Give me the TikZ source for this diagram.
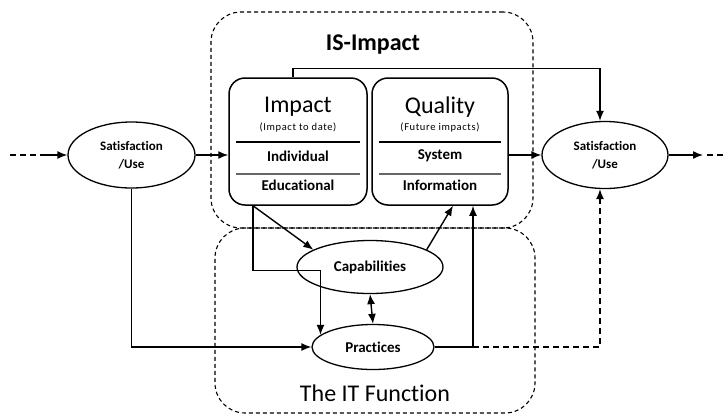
\documentclass[tikz,border=0pt]{standalone}
\usepackage{fontspec}
\setmainfont{Carlito}[Ligatures=NoCommon]
\usetikzlibrary{arrows.meta,shapes.geometric,calc}

\begin{document}
\begin{tikzpicture}[x=1pt,y=-1pt,
  line width=1.4pt,
  >={Latex[length=10pt,width=8pt]},
  ell/.style={draw,ellipse,inner sep=0pt,line width=1.3pt,align=center},
  panel/.style={draw,rounded corners=16pt,line width=1.5pt,minimum height=127pt,inner sep=0pt},
  zone/.style={draw,rounded corners=30pt,line width=1.1pt,dash pattern=on 4pt off 3pt,inner sep=0pt},
  flowdash/.style={dash pattern=on 6pt off 4pt},
  bigtxt/.style={font=\fontsize{24}{26}\selectfont},
  headtxt/.style={font=\fontsize{24}{26}\selectfont\bfseries},
  subtxt/.style={font=\fontsize{10.5}{12}\selectfont\addfontfeature{LetterSpace=6}},
  itemtxt/.style={font=\fontsize{15}{17}\selectfont\bfseries},
  elltxt/.style={font=\fontsize{13}{17.5}\selectfont\bfseries},
  rule/.style={line width=1.2pt},
  rulegrey/.style={line width=2.2pt,black!60}
]
\useasboundingbox (0,0) rectangle (726,416);

% dashed zones
\node[zone,minimum width=322pt,minimum height=216pt] (isz) at (372,120) {};
\node[zone,minimum width=320pt,minimum height=185pt] (itz) at (375,320.5) {};
\node[headtxt] (istitle) at (373,45) {IS-Impact};
\node[bigtxt] (ittitle) at (375,393) {The IT Function};

% the two panels
\node[panel,minimum width=138pt] (imp) at (298,141.5) {};
\node[panel,minimum width=136pt] (qual) at (440,141.5) {};

\node[bigtxt] (impt) at (298,107) {Impact};
\node[subtxt] (imps) at (298,128) {(Impact to date)};
\node[itemtxt] (impa) at (298,156) {Individual};
\node[itemtxt] (impb) at (298,185) {Educational};
\draw[rule] ($(imp.west)+(8,0.5)$) -- ($(imp.east)+(-8,0.5)$);
\draw[rulegrey] ($(imp.west)+(8,32.5)$) -- ($(imp.east)+(-8,32.5)$);

\node[bigtxt] (qualt) at (440,107) {Quality};
\node[subtxt] (quals) at (440,128) {(Future impacts)};
\node[itemtxt] (quala) at (440,156) {System};
\node[itemtxt] (qualb) at (440,185) {Information};
\draw[rule] ($(qual.west)+(8,0.5)$) -- ($(qual.east)+(-8,0.5)$);
\draw[rulegrey] ($(qual.west)+(8,32.5)$) -- ($(qual.east)+(-8,32.5)$);

% ellipses
\node[ell,elltxt,minimum width=127pt,minimum height=66pt] (sl) at (131.5,155) {Satisfaction\\/Use};
\node[ell,elltxt,minimum width=126pt,minimum height=67pt] (sr) at (605,155) {Satisfaction\\/Use};
\node[ell,itemtxt,minimum width=146pt,minimum height=53pt] (cap) at (370,267) {Capabilities};
\node[ell,itemtxt,minimum width=122pt,minimum height=45pt] (prac) at (373,347) {Practices};

% connectors
\coordinate (lin) at (10,155);
\coordinate (lmid) at (40,155);
\coordinate (rout) at (703,155);
\coordinate (rend) at (726,155);
\coordinate (topbend) at ($(imp.north)+(-5,-9)$);
\coordinate (ib) at ($(imp.south)+(-45,0)$);
\coordinate (bend) at ($(ib)+(0,65)$);
\coordinate (qin) at ($(qual.south)+(13,0)$);
\coordinate (qup) at ($(qual.south)+(33,0)$);
\coordinate (srin) at ($(sr.south)+(-5,0)$);

\draw[flowdash] (lin) -- (lmid);
\draw[->] (lmid) -- (sl.west);
\draw[->] (sl.east) -- (sl.east -| imp.west);
\draw[->] (qual.east |- sr.west) -- (sr.west);
\draw[->] (sr.east) -- (rout);
\draw[flowdash] ($(rout)+(4,0)$) -- (rend);

\draw[->] ($(imp.north)+(-5,0)$) -- (topbend) -| ($(sr.north)+(-5,0)$);

\draw[->] (sl.south) |- (prac.west);
\draw[->] (ib) -- (cap.163);
\draw[->] (ib) -- (bend) -| (prac.167);
\draw[->] (cap.17) -- (qin);
\draw[<->] (cap.south) -- (prac.north);
\draw[->] (prac.east) -| (qup);
\draw[->,flowdash] (prac.east -| qup) -| (srin);
\end{tikzpicture}
\end{document}
